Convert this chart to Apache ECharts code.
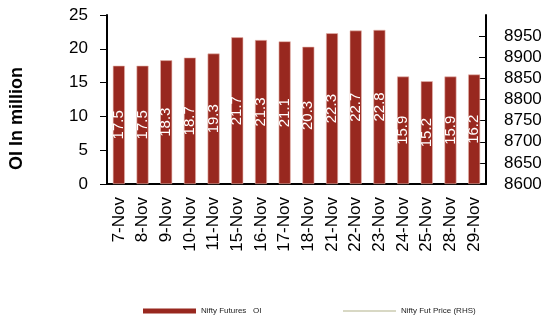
<!DOCTYPE html>
<html>
<head>
<meta charset="utf-8">
<script src="https://cdn.jsdelivr.net/npm/echarts@6/dist/echarts.min.js"></script>
<style>
  html, body { margin: 0; padding: 0; background: #fff; }
  #chart { width: 547px; height: 324px; }
</style>
</head>
<body>
<div id="chart"></div>
<script>
// data
var days = ['7-Nov', '8-Nov', '9-Nov', '10-Nov', '11-Nov', '15-Nov', '16-Nov', '17-Nov',
            '18-Nov', '21-Nov', '22-Nov', '23-Nov', '24-Nov', '25-Nov', '28-Nov', '29-Nov'];
var futuresOI = [17.5, 17.5, 18.3, 18.7, 19.3, 21.7, 21.3, 21.1, 20.3, 22.3, 22.7, 22.8, 15.9, 15.2, 15.9, 16.2];
var futPrice = [];   // line not visible in the picture

var font = '"Liberation Sans Narrow", "Arial Narrow", "Liberation Sans", sans-serif';

var chart = echarts.init(document.getElementById('chart'));

var option = {
    animation: false,
    textStyle: { fontFamily: font },
    grid: { left: 107, right: 61, top: 15, bottom: 140 },
    legend: [
        {
            top: 302,
            left: 138,
            itemWidth: 53,
            itemHeight: 5,
            itemStyle: { borderWidth: 0 },
            textStyle: { fontSize: 8, color: '#222', fontFamily: font },
            data: [{ name: 'Nifty Futures   OI', icon: 'rect' }]
        },
        {
            top: 302,
            left: 338,
            itemWidth: 53,
            itemHeight: 2,
            itemStyle: { borderWidth: 0 },
            textStyle: { fontSize: 8, color: '#222', fontFamily: font },
            data: [{ name: 'Nifty Fut Price (RHS)', icon: 'rect' }]
        }
    ],
    graphic: [{
        type: 'text',
        left: 8,
        top: 67,
        rotation: Math.PI / 2,
        style: {
            text: 'OI In million',
            font: 'bold 18px ' + font,
            fill: '#000'
        }
    }],
    xAxis: {
        type: 'category',
        data: days,
        axisLine: { lineStyle: { color: '#000', width: 2 } },
        axisTick: { length: 5, lineStyle: { color: '#000' } },
        axisLabel: { rotate: 90, fontSize: 17, color: '#000', margin: 13, fontFamily: font }
    },
    yAxis: [
        {
            type: 'value',
            min: 0, max: 25, interval: 5,
            axisLine: { show: true, lineStyle: { color: '#000', width: 2 } },
            axisTick: { show: true, length: 7, lineStyle: { color: '#000' } },
            axisLabel: { fontSize: 17, color: '#000', margin: 19 },
            splitLine: { show: false }
        },
        {
            type: 'value',
            min: 8600, max: 9000, interval: 50,
            position: 'right',
            axisLine: { show: true, lineStyle: { color: '#000', width: 2 } },
            axisTick: { show: true, inside: true, length: 7, lineStyle: { color: '#000' } },
            axisLabel: {
                fontSize: 17, color: '#000', margin: 18, showMaxLabel: false,
                formatter: function (v) { return String(v); }
            },
            splitLine: { show: false }
        }
    ],
    series: [
        {
            name: 'Nifty Futures   OI',
            type: 'bar',
            data: futuresOI,
            barWidth: 12,
            itemStyle: { color: '#98281f', borderColor: '#e8b8b0', borderWidth: 0.6 },
            label: {
                show: true,
                position: 'inside',
                rotate: 90,
                color: '#fff',
                fontSize: 15,
                fontFamily: font,
                formatter: function (p) { return p.value.toFixed(1); }
            }
        },
        {
            name: 'Nifty Fut Price (RHS)',
            type: 'line',
            yAxisIndex: 1,
            data: futPrice,
            symbol: 'none',
            itemStyle: { color: '#d8d8c4' },
            lineStyle: { color: '#d8d8c4', width: 2 }
        }
    ]
};

chart.setOption(option);
</script>
</body>
</html>
